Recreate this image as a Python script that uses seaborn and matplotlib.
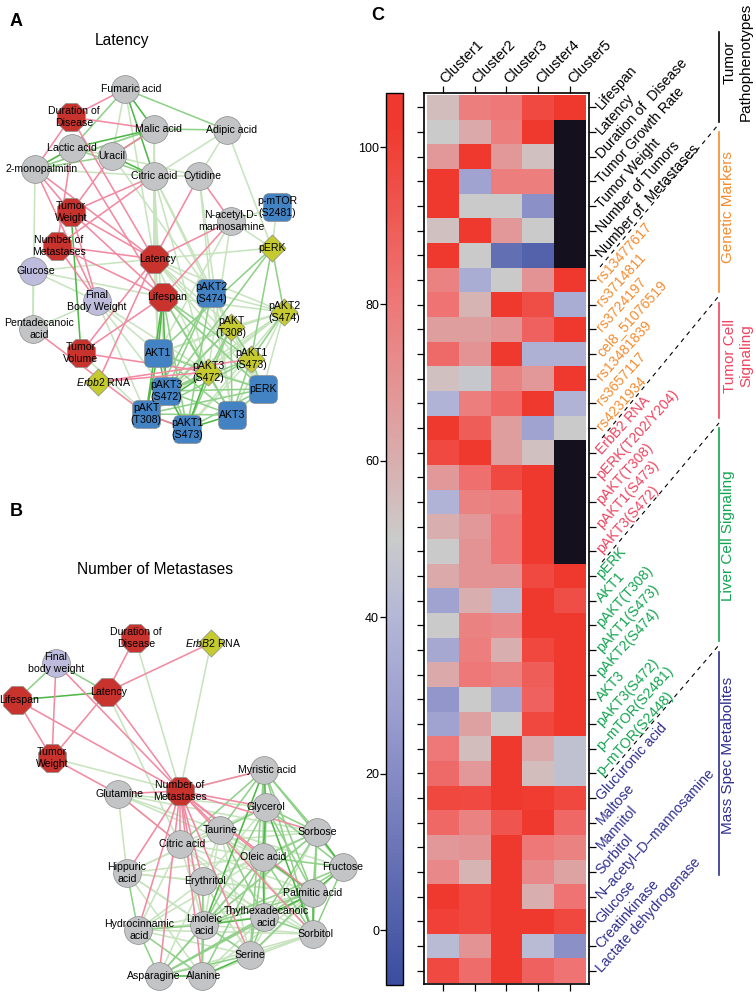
import numpy as np
import pandas as pd
import matplotlib
matplotlib.use("Agg")
import matplotlib.pyplot as plt
import matplotlib.path as mpath
from matplotlib.colors import LinearSegmentedColormap, ListedColormap
from matplotlib.patches import BoxStyle
import seaborn as sns

# heatmap values, one row per marker (nan = black cells)
n = np.nan
clusters = ["Cluster1", "Cluster2", "Cluster3", "Cluster4", "Cluster5"]
markers = ["Lifespan", "Latency", "Duration of  Disease", "Tumor Growth Rate", "Tumor Weight",
           "Number of Tumors", "Number of  Metastases",
           "rs13477617", "rs3714811", "rs3724197", "cel8_51076519", "rs13481839", "rs3657117", "rs4231934",
           "ErbB2 RNA", "pERK(T202/Y204)", "pAKT(T308)", "pAKT1(S473)", "pAKT3(S472)",
           "pERK", "AKT1", "pAKT(T308)", "pAKT1(S473)", "pAKT2(S474)", "AKT3", "pAKT3(S472)",
           "p\u2013mTOR(S2481)", "p\u2013mTOR(S2448)",
           "Glucuronic acid", "Maltose", "Mannitol", "Sorbitol", "N\u2013acetyl\u2013D\u2013mannosamine",
           "Glucose", "Creatinkinase", "Lactate dehydrogenase"]
c1 = [55, 50, 68, 103, 103, 54, 103, 76, 82, 66, 85, 54, 38, 103, 97, 68, 38, 60, 50,
      62, 30, 50, 33, 62, 25, 30, 80, 85, 98, 86, 68, 74, 103, 100, 42, 97]
c2 = [78, 62, 103, 30, 50, 103, 50, 35, 58, 66, 70, 48, 78, 90, 103, 83, 76, 68, 70,
      70, 60, 76, 78, 80, 50, 65, 55, 68, 97, 76, 70, 58, 98, 98, 70, 84]
c3 = [80, 78, 68, 78, 50, 68, 8, 50, 103, 70, 103, 76, 86, 66, 66, 97, 78, 82, 82,
      70, 42, 74, 60, 76, 33, 50, 103, 103, 103, 93, 103, 103, 103, 103, 103, 103]
c4 = [97, 103, 54, 78, 22, 50, 2, 70, 95, 88, 37, 68, 103, 30, 54, 103, 103, 103, 103,
      97, 103, 103, 98, 90, 88, 98, 62, 55, 102, 103, 80, 74, 60, 103, 42, 88]
c5 = [103, n, n, n, n, n, n, 103, 35, 103, 37, 103, 38, 50, n, n, n, n, n,
      103, 95, 103, 103, 103, 103, 103, 45, 45, 98, 86, 76, 64, 82, 98, 22, 82]
cbar_ticks = [0, 20, 40, 60, 80, 100]

group_colors = ["black"] * 7 + ["#f68b2e"] * 7 + ["#ee4460"] * 5 + ["#12a550"] * 9 + ["#2f2f90"] * 8

# panel A network
a_ids = ["Fum", "Dur", "Mal", "Adi", "Lac", "Ura", "Mono", "Cit", "Cyt", "TW", "Nac", "mTOR", "pERKd", "NM",
         "Lat", "Glu", "Life", "FBW", "p2s", "p2d", "pTd", "Pen", "AKT1", "TV", "p1d", "p3d", "Erb", "pERKs",
         "p3s", "pTs", "AKT3", "p1s"]
a_labels = ["Fumaric acid", "Duration of\nDisease", "Malic acid", "Adipic acid", "Lactic acid", "Uracil",
            "2-monopalmitin", "Citric acid", "Cytidine", "Tumor\nWeight", "N-acetyl-D-\nmannosamine",
            "p-mTOR\n(S2481)", "pERK", "Number of\nMetastases", "Latency", "Glucose", "Lifespan",
            "Final\nBody Weight", "pAKT2\n(S474)", "pAKT2\n(S474)", "pAKT\n(T308)", "Pentadecanoic\nacid", "AKT1",
            "Tumor\nVolume", "pAKT1\n(S473)", "pAKT3\n(S472)", "$\\mathit{Erbb2}$ RNA", "pERK",
            "pAKT3\n(S472)", "pAKT\n(T308)", "AKT3", "pAKT1\n(S473)"]
a_x = [125, 71, 154, 227, 72, 112, 35, 154, 199, 71, 231, 277, 272, 57,
       154, 33, 163, 97, 211, 284, 231, 33, 158, 81, 251, 208, 98, 263, 166, 146, 232, 187]
a_y = [89, 117, 129, 130, 148, 156, 169, 176, 176, 212, 221, 207, 248, 246,
       259, 271, 297, 301, 293, 312, 327, 329, 353, 353, 359, 372, 382, 389, 391, 414, 415, 429]
a_kind = ["met", "phe", "met", "met", "met", "met", "met", "met", "met", "phe", "met", "liv", "tum", "phe",
          "phe", "lav", "phe", "lav", "liv", "tum", "tum", "met", "liv", "phe", "tum", "tum", "tum", "liv",
          "liv", "liv", "liv", "liv"]
a_pink = [("Dur", "Fum"), ("Dur", "Mal"), ("Dur", "Mono"), ("Dur", "Lat"), ("Mono", "TW"), ("Mono", "FBW"),
          ("Mono", "Lat"), ("Lac", "Life"), ("Lac", "NM"), ("Ura", "TW"), ("Cit", "TW"), ("Cit", "NM"),
          ("Cyt", "Lat"), ("Cyt", "Nac"), ("TW", "Lat"), ("TW", "Life"), ("TW", "FBW"), ("NM", "Lat"),
          ("NM", "Life"), ("NM", "FBW"), ("Nac", "Lat"), ("Nac", "Life"), ("Lat", "TV"), ("Life", "TV"),
          ("Lat", "Erb"), ("TV", "p3d"), ("Erb", "p3d"), ("Erb", "p1d"), ("Pen", "pTs"), ("pTs", "p1s"),
          ("Mal", "Ura")]
a_pale = [("Fum", "Ura"), ("Fum", "Lat"), ("Mal", "Lat"), ("Mal", "AKT1"), ("Adi", "Cit"), ("Adi", "Cyt"),
          ("Adi", "pERKd"), ("Cit", "Lat"), ("Cit", "Cyt"), ("Cit", "AKT1"), ("Cit", "p2s"), ("Cit", "pTd"),
          ("Cyt", "p2s"), ("Mono", "Cit"), ("Mono", "Pen"), ("Glu", "Pen"), ("Glu", "Life"), ("Glu", "FBW"),
          ("Glu", "Lat"), ("Mono", "Mal"), ("Lac", "Ura"), ("Nac", "mTOR"), ("Nac", "pERKd"), ("mTOR", "pERKd"),
          ("Lat", "pERKd"), ("Lat", "p2s"), ("Lat", "AKT1"), ("Lat", "pTd"), ("Lat", "p2d"), ("Life", "p2d"),
          ("Pen", "FBW"), ("FBW", "p3s"), ("FBW", "pTs"), ("FBW", "p3d"), ("FBW", "AKT1"), ("Lat", "p3d"),
          ("Nac", "AKT1"), ("Nac", "p3d"), ("Cit", "p3s"), ("Cit", "p3d"), ("Cyt", "AKT3"), ("Ura", "p2s"),
          ("p2s", "p2d"), ("p2s", "pTd"), ("pTd", "p2d"), ("p2d", "p3d"), ("TV", "pTs"), ("Life", "pERKs"),
          ("AKT1", "pERKs"), ("p3d", "p1s"), ("p1d", "p1s"), ("Lat", "p1d"), ("Lat", "pERKs"), ("p2s", "AKT3"),
          ("p2s", "pERKs"), ("p2s", "p1d"), ("AKT1", "p2d"), ("AKT1", "pTd"), ("p3s", "p2d"), ("p3s", "pTd"),
          ("pTs", "p2d"), ("p1s", "p2d"), ("AKT3", "p2d"), ("pERKs", "p2d"), ("Lac", "Mono"), ("Ura", "Cyt")]
a_mid = [("Fum", "Lac"), ("Mal", "Adi"), ("Fum", "Adi"), ("Mal", "Mono"), ("Ura", "Mono"), ("Lac", "Cit"),
         ("Life", "p3d"), ("Life", "p1d"), ("Life", "AKT3"), ("Life", "pERKs"), ("Life", "p1s"), ("pERKd", "p2d"),
         ("pERKd", "p3s"), ("pERKd", "AKT1"), ("pERKd", "p1d"), ("p2d", "p1d"), ("p2s", "p3s"), ("p2s", "pTs"),
         ("pTd", "p3d"), ("pTd", "p1d"), ("pTd", "p1s"), ("pTd", "AKT3"), ("AKT1", "p3d"), ("AKT1", "AKT3"),
         ("AKT1", "p1s"), ("p1d", "pERKs"), ("p1d", "AKT3"), ("p3d", "pERKs"), ("p3d", "AKT3"), ("p3d", "p3s"),
         ("p3s", "pERKs"), ("p3s", "AKT3"), ("pTs", "AKT3"), ("pERKs", "p1s"), ("pERKs", "AKT3"), ("pTs", "pERKs"),
         ("p2s", "p1s"), ("p1d", "pTs"), ("p1d", "p3s"), ("pTd", "pTs")]
a_dark = [("Fum", "Mal"), ("Fum", "Cit"), ("Mal", "Lac"), ("Mal", "Ura"), ("Mono", "Lac"), ("TW", "TV"),
          ("Ura", "Cit"), ("Life", "AKT1"), ("Life", "p3s"), ("Life", "pTs"), ("AKT1", "p3s"), ("AKT1", "pTs"),
          ("p3s", "pTs"), ("p3s", "p1s"), ("pTs", "p1s"), ("AKT3", "p1s"), ("p1s", "p3d"), ("pTs", "p3d")]

# panel B network
b_ids = ["Dur", "Erb", "FBW", "Lat", "Life", "Tum", "Myr", "NM", "Gln", "Gly", "Sorb", "Tau", "Cit", "Ole",
         "Fru", "Hip", "Ery", "Pal", "Lin", "Thy", "Hyd", "Stl", "Ser", "Asn", "Ala"]
b_labels = ["Duration of\nDisease", "$\\mathit{ErbB2}$ RNA", "Final\nbody weight", "Latency", "Lifespan",
            "Tumor\nWeight", "Myristic acid", "Number of\nMetastases", "Glutamine", "Glycerol", "Sorbose",
            "Taurine", "Citric acid", "Oleic acid", "Fructose", "Hippuric\nacid", "Erythritol", "Palmitic acid",
            "Linoleic\nacid", "Thylhexadecanoic\nacid", "Hydrocinnamic\nacid", "Sorbitol", "Serine",
            "Asparagine", "Alanine"]
b_x = [135, 211, 56, 107, 17, 52, 264, 180, 118, 266, 317, 220, 180, 263,
       343, 127, 203, 313, 204, 264, 138, 313, 250, 159, 202]
b_y = [638, 643, 663, 692, 700, 758, 770, 791, 794, 807, 832, 830, 844, 857,
       867, 873, 881, 893, 925, 917, 930, 934, 955, 976, 976]
b_kind = ["phe", "tum", "lav", "phe", "phe", "phe", "met", "phe", "met", "met", "met", "met", "met", "met",
          "met", "met", "met", "met", "met", "met", "met", "met", "met", "met", "met"]
b_pink = [("Dur", "Lat"), ("Erb", "Lat"), ("FBW", "Tum"), ("FBW", "NM"), ("Life", "Tum"), ("Life", "NM"),
          ("Lat", "Tum"), ("Lat", "NM"), ("Tum", "Gln"), ("Gln", "Cit"), ("Gln", "NM"), ("NM", "Myr"),
          ("NM", "Gly"), ("NM", "Tau"), ("NM", "Ole"), ("NM", "Cit"), ("NM", "Sorb"), ("NM", "Hip"),
          ("NM", "Hyd"), ("NM", "Ery"), ("NM", "Asn"), ("NM", "Ala"), ("NM", "Lin"), ("NM", "Ser"),
          ("NM", "Stl"), ("NM", "Pal")]
b_pale = [("Dur", "NM"), ("Erb", "NM"), ("Lat", "Cit"), ("Tum", "NM"), ("NM", "Myr"), ("Gln", "Hip"),
          ("Gln", "Tau"), ("Gln", "Ole"), ("Cit", "Ser"), ("Cit", "Thy"), ("Cit", "Hyd"), ("Hip", "Ole"),
          ("Hip", "Tau"), ("Hip", "Ser"), ("Hip", "Ala"), ("Hyd", "Ery"), ("Hyd", "Ser"), ("Hyd", "Thy"),
          ("Ery", "Thy"), ("Ery", "Stl"), ("Ery", "Ser"), ("Lin", "Stl"), ("Lin", "Sorb"), ("Tau", "Stl"),
          ("Tau", "Ser"), ("Tau", "Pal"), ("Ser", "Stl"), ("Ser", "Fru"), ("Ser", "Pal"), ("Asn", "Stl"),
          ("Asn", "Thy"), ("Ala", "Thy"), ("Cit", "Ole"), ("Gly", "Cit"), ("Cit", "Sorb"), ("Cit", "Pal"),
          ("Cit", "Lin"), ("Cit", "Stl"), ("Hip", "Gly"), ("Hip", "Pal"), ("Hip", "Lin"), ("Hip", "Ery"),
          ("Hyd", "Pal"), ("Hyd", "Ole"), ("Hyd", "Stl"), ("Ery", "Pal"), ("Ery", "Ole"), ("Ery", "Gly"),
          ("Ery", "Sorb"), ("Ery", "Lin"), ("Ery", "Asn"), ("Ery", "Ala"), ("Tau", "Ole"), ("Tau", "Ery"),
          ("Tau", "Sorb"), ("Tau", "Fru"), ("Tau", "Lin"), ("Ala", "Stl"), ("Ala", "Pal"), ("Asn", "Pal"),
          ("Ser", "Sorb"), ("Gln", "Gly"), ("Gln", "Cit"), ("Gln", "Sorb")]
b_mid = [("FBW", "Lat"), ("FBW", "Life"), ("Hip", "Hyd"), ("Hyd", "Asn"), ("Hyd", "Ala"), ("Asn", "Ser"),
         ("Asn", "Lin"), ("Ala", "Lin"), ("Ala", "Ery"), ("Myr", "Ole"), ("Myr", "Sorb"), ("Myr", "Fru"),
         ("Myr", "Tau"), ("Myr", "Pal"), ("Myr", "Ser"), ("Gly", "Tau"), ("Gly", "Sorb"), ("Gly", "Fru"),
         ("Gly", "Pal"), ("Gly", "Lin"), ("Gly", "Thy"), ("Ole", "Sorb"), ("Ole", "Fru"), ("Ole", "Stl"),
         ("Ole", "Ser"), ("Sorb", "Pal"), ("Sorb", "Thy"), ("Sorb", "Stl"), ("Fru", "Thy"), ("Fru", "Stl"),
         ("Fru", "Lin"), ("Pal", "Lin"), ("Pal", "Ser"), ("Thy", "Ser"), ("Stl", "Thy"), ("Lin", "Ser"),
         ("Lin", "Hyd"), ("Tau", "Thy"), ("Ole", "Lin"), ("Ole", "Asn"), ("Myr", "Cit"), ("Myr", "Stl"),
         ("Sorb", "Lin"), ("Ole", "Ala"), ("Thy", "Asn"), ("Pal", "Asn")]
b_dark = [("Life", "Lat"), ("Asn", "Ala"), ("Ala", "Ser"), ("Myr", "Gly"), ("Gly", "Ole"), ("Ole", "Pal"),
          ("Ole", "Thy"), ("Sorb", "Fru"), ("Fru", "Pal"), ("Pal", "Stl"), ("Pal", "Thy"), ("Gly", "Stl"),
          ("Myr", "Lin"), ("Lin", "Thy")]

kind_color = {"phe": "#c9332e", "met": "#c3c4c6", "lav": "#bdbcdc", "liv": "#4383c4", "tum": "#c5cb2f"}
edge_color = {"pale": "#c8e4bf", "pink": "#f28aa2", "mid": "#90d189", "dark": "#4fb848"}

plt.rcParams["font.family"] = ["Liberation Sans", "DejaVu Sans"]
plt.rcParams["mathtext.fontset"] = "custom"
plt.rcParams["mathtext.it"] = "Liberation Sans:italic"
plt.rcParams["mathtext.rm"] = "Liberation Sans"

W, H = 756, 992
fig = plt.figure(figsize=(W / 100, H / 100), dpi=100)

def box(l, t, r, b):
    return [l / W, 1 - b / H, (r - l) / W, (b - t) / H]

# whole-figure axes in pixels, for networks and annotations
net = fig.add_axes([0, 0, 1, 1])
net.set_xlim(0, W)
net.set_ylim(H, 0)
net.axis("off")

rounded = BoxStyle.Round(pad=0, rounding_size=0.2)(-0.5, -0.5, 1, 1, 1)
rounded = mpath.Path(rounded.vertices, rounded.codes)

def draw_network(ids, labels, xs, ys, kinds, edges, offsets):
    nodes = pd.DataFrame({"id": ids, "label": labels, "x": xs, "y": ys, "kind": kinds})
    pos = nodes.set_index("id")
    for name, pairs in edges:
        for s, t in pairs:
            net.plot([pos.x[s], pos.x[t]], [pos.y[s], pos.y[t]], color=edge_color[name], lw=1.15,
                     zorder=2, solid_capstyle="butt")
    for kind, marker, size in [("met", "o", 400), ("lav", "o", 400), ("phe", "8", 470),
                               ("liv", rounded, 400), ("tum", "D", 190)]:
        part = nodes[nodes.kind == kind]
        sns.scatterplot(data=part, x="x", y="y", color=kind_color[kind], marker=marker, s=size,
                        edgecolor="#8a8a8a", linewidth=0.5, zorder=3, ax=net, legend=False)
    for row in nodes.itertuples():
        dx = offsets.get(row.id, 0)
        net.text(row.x + dx, row.y, row.label, fontsize=7.6, ha="center", va="center",
                 linespacing=1.15, zorder=4)

draw_network(a_ids, a_labels, a_x, a_y, a_kind,
             [("pale", a_pale), ("mid", a_mid), ("dark", a_dark), ("pink", a_pink)],
             {"Fum": 6, "Dur": 3, "Mono": 7, "Erb": 6, "Mal": 4, "Adi": 5, "Cyt": 4, "Pen": 6, "Glu": 3, "NM": 2,
              "Lat": 4, "Life": 4})
draw_network(b_ids, b_labels, b_x, b_y, b_kind,
             [("pale", b_pale), ("mid", b_mid), ("dark", b_dark), ("pink", b_pink)],
             {"Erb": 2, "Thy": 2, "Myr": 3, "Dur": 1, "Life": 2, "Asn": -5, "Ala": 2, "Stl": 2, "Hyd": 1,
              "Lat": 2, "Cit": 2, "Ery": 2, "Gln": 2})
net.set_xlabel("")
net.set_ylabel("")

net.text(16, 21, "A", fontsize=13, fontweight="bold", ha="center", va="center")
net.text(16, 511, "B", fontsize=13, fontweight="bold", ha="center", va="center")
net.text(378, 16, "C", fontsize=13, fontweight="bold", ha="center", va="center")
net.text(122, 40, "Latency", fontsize=11.2, ha="center", va="center")
net.text(155, 570, "Number of Metastases", fontsize=11.2, ha="center", va="center")

# heatmap with its colour bar
data = pd.DataFrame({"c1": c1, "c2": c2, "c3": c3, "c4": c4, "c5": c5})
vmin, vmax = -7, 107
stops = [(-7, "#3a4d9f"), (28, "#9c9ecf"), (40, "#b4b7d6"), (50, "#cbcbcb"), (60, "#d9aeae"),
         (80, "#ee7878"), (103, "#f0392e"), (107, "#f0392e")]
cmap = LinearSegmentedColormap.from_list(
    "heat", [((v - vmin) / (vmax - vmin), c) for v, c in stops], N=256)

hm = fig.add_axes(box(424.3, 92.7, 588.7, 984))
cb_ax = fig.add_axes(box(386, 92.7, 403, 985))
sns.heatmap(data, cmap=cmap, vmin=vmin, vmax=vmax, ax=hm, cbar_ax=cb_ax,
            xticklabels=clusters, yticklabels=markers)
sns.heatmap(data.isna().where(data.isna()).astype(float), cmap=ListedColormap(["#15101e"]), cbar=False, ax=hm,
            xticklabels=clusters, yticklabels=markers)
hm.set_xlim(-0.085, 5.085)
hm.set_ylim(36.04, -0.09)
hm.set_xlabel("")
hm.set_ylabel("")
for side in hm.spines.values():
    side.set_visible(True)
    side.set_linewidth(1.2)
hm.tick_params(axis="both", length=4.7, width=0.9)
hm.tick_params(axis="x", pad=3.5, labelsize=10.5)
hm.tick_params(axis="y", pad=2.5, labelsize=10.2)
hm.tick_params(top=True, bottom=True, labeltop=True, labelbottom=False,
               left=True, right=True, labelleft=False, labelright=True)
plt.setp(hm.get_xticklabels(), rotation=45, ha="left", va="center", rotation_mode="anchor")
plt.setp(hm.get_yticklabels(), rotation=48, ha="left", va="center", rotation_mode="anchor")
for lab, col in zip(hm.get_yticklabels(), group_colors):
    lab.set_color(col)

cbar = hm.collections[0].colorbar
cbar.outline.set_linewidth(1.0)
cbar.outline.set_edgecolor("black")
cbar.set_ticks(cbar_ticks)
cb_ax.yaxis.set_ticks_position("left")
cb_ax.tick_params(length=4, width=0.9, pad=1, labelsize=9)

# dashed separators between label groups
for (x0, y0), (x1, y1) in [((600, 267), (718, 125)), ((602, 438), (718, 297)),
                           ((602, 562), (719, 423)), ((605, 778), (719, 645))]:
    net.plot([x0, x1], [y0, y1], color="black", lw=0.8, ls=(0, (4, 4)), zorder=5)

# group brackets and names on the right
brackets = [(32, 122, "black"), (132, 292, "#f68b2e"), (303, 418, "#ee4460"),
            (428, 641, "#12a550"), (652, 875, "#2f2f90")]
for y0, y1, col in brackets:
    net.plot([719, 719], [y0, y1], color=col, lw=1.2, zorder=5)
side_names = [(738, 62, "Tumor\nPathophenotypes", "black"), (728, 207, "Genetic Markers", "#f68b2e"),
              (738, 356, "Tumor Cell\nSignaling", "#ee4460"), (728, 536, "Liver Cell Signaling", "#12a550"),
              (728, 755, "Mass Spec Metabolites", "#2f2f90")]
for x, y, txt, col in side_names:
    net.text(x, y, txt, rotation=90, fontsize=11, color=col, ha="center", va="center",
             multialignment="center", linespacing=1.2, zorder=5)

net.set_zorder(3)
net.patch.set_alpha(0)

fig.savefig("out.png", dpi=100)
